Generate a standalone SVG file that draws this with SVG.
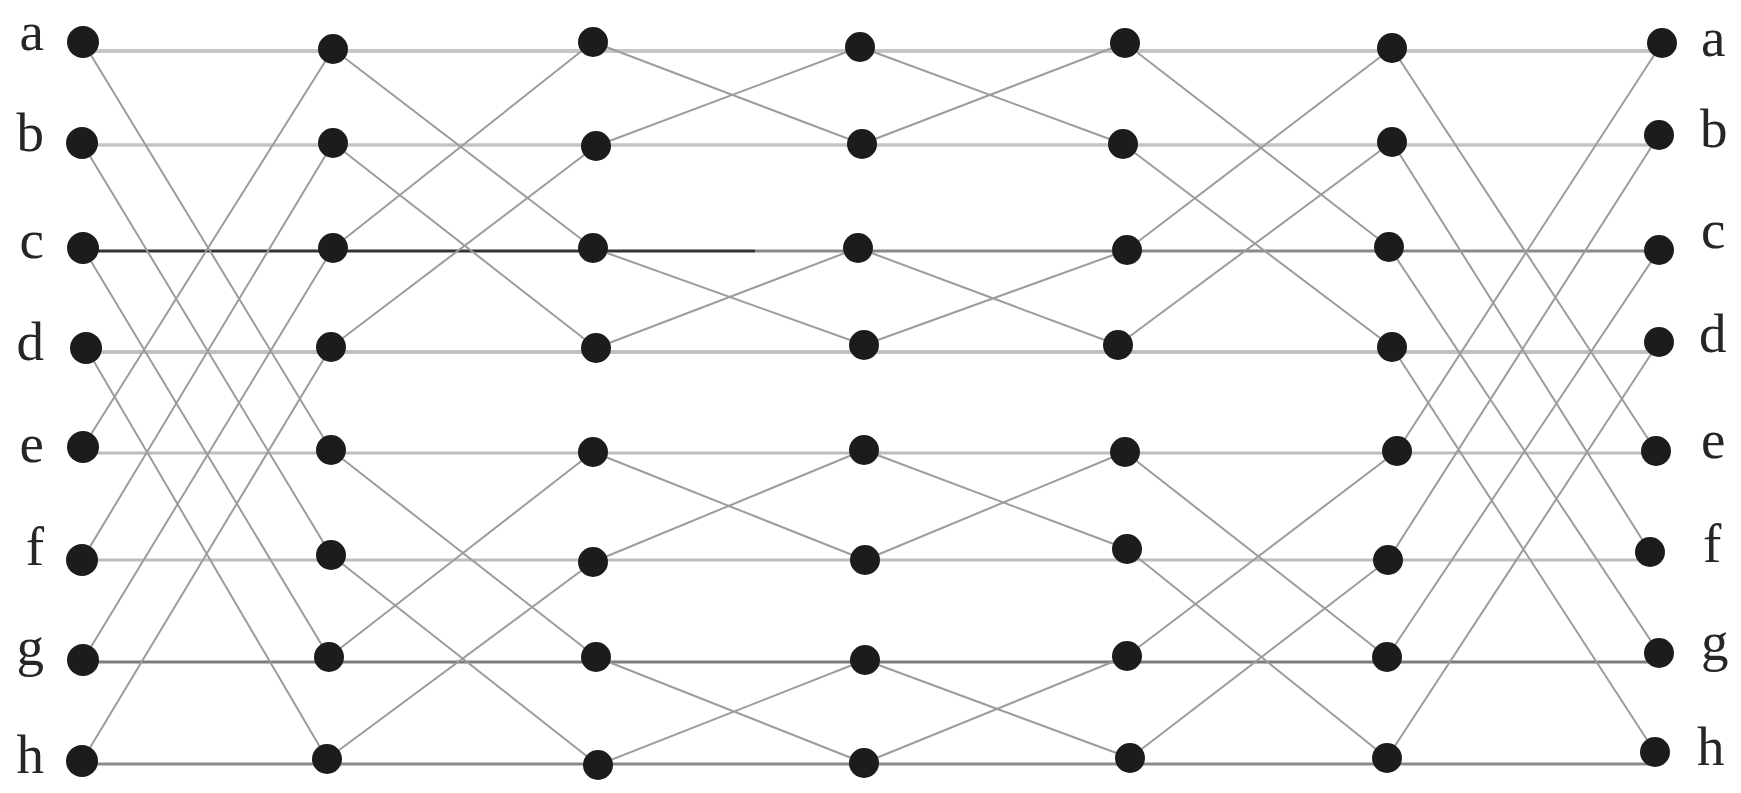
<svg xmlns="http://www.w3.org/2000/svg" width="1741" height="793" viewBox="0 0 1741 793">
<style>
.lbl{font-family:"Liberation Serif","Times New Roman",serif;font-size:55px;fill:#262626}
.d{stroke:#9c9c9c;stroke-width:2;fill:none}
.n{fill:#1c1c1c}
</style>
<rect width="1741" height="793" fill="#ffffff"/>
<g id="connectors">
<line x1="83" y1="51" x2="1662" y2="51" stroke="#c6c6c6" stroke-width="4"/>
<line x1="82" y1="145" x2="1659" y2="145" stroke="#c4c4c4" stroke-width="3.5"/>
<line x1="83" y1="251" x2="755" y2="251" stroke="#333333" stroke-width="3"/>
<line x1="755" y1="251" x2="1659" y2="251" stroke="#8a8a8a" stroke-width="3"/>
<line x1="86" y1="352" x2="1659" y2="352" stroke="#c0c0c0" stroke-width="4"/>
<line x1="83" y1="453" x2="1656" y2="453" stroke="#bdbdbd" stroke-width="3"/>
<line x1="82" y1="560" x2="1650" y2="560" stroke="#bdbdbd" stroke-width="3"/>
<line x1="83" y1="662" x2="1659" y2="662" stroke="#7c7c7c" stroke-width="3"/>
<line x1="82" y1="764" x2="1655" y2="764" stroke="#8a8a8a" stroke-width="3"/>
<!-- col0 -> col1 (stride 4) -->
<path class="d" d="M83 42L331 450M82 143L331 555M83 248L329 657M86 348L327 759M83 447L333 49M82 560L333 143M83 660L333 248M82 761L331 347"/>
<!-- col1 -> col2 (stride 2) -->
<path class="d" d="M333 49L593 248M333 143L596 348M333 248L593 42M331 347L596 146M331 450L596 657M331 555L598 765M329 657L593 452M327 759L593 562"/>
<!-- col2 -> col3 (stride 1) -->
<path class="d" d="M593 42L862 144M596 146L860 47M593 248L864 345M596 348L858 248M593 452L865 560M593 562L864 450M596 657L864 763M598 765L865 660"/>
<!-- col3 -> col4 (stride 1) -->
<path class="d" d="M860 47L1123 144M862 144L1125 43M858 248L1118 345M864 345L1127 250M864 450L1127 549M865 560L1125 452M865 660L1130 758M864 763L1127 656"/>
<!-- col4 -> col5 (stride 2) -->
<path class="d" d="M1125 43L1389 247M1123 144L1392 347M1127 250L1392 48M1118 345L1392 142M1125 452L1387 657M1127 549L1387 758M1127 656L1397 451M1130 758L1388 560"/>
<!-- col5 -> col6 (stride 4) -->
<path class="d" d="M1392 48L1656 451M1392 142L1650 552M1389 247L1659 653M1392 347L1655 752M1397 451L1662 43M1388 560L1659 135M1387 657L1659 250M1387 758L1659 342"/>
</g>
<g id="col0">
<circle id="n0a" class="n" cx="83" cy="42" r="16"/>
<circle id="n0b" class="n" cx="82" cy="143" r="16"/>
<circle id="n0c" class="n" cx="83" cy="248" r="16"/>
<circle id="n0d" class="n" cx="86" cy="348" r="16"/>
<circle id="n0e" class="n" cx="83" cy="447" r="16"/>
<circle id="n0f" class="n" cx="82" cy="560" r="16"/>
<circle id="n0g" class="n" cx="83" cy="660" r="16"/>
<circle id="n0h" class="n" cx="82" cy="761" r="16"/>
</g>
<g id="col1">
<circle id="n1a" class="n" cx="333" cy="49" r="15"/>
<circle id="n1b" class="n" cx="333" cy="143" r="15"/>
<circle id="n1c" class="n" cx="333" cy="248" r="15"/>
<circle id="n1d" class="n" cx="331" cy="347" r="15"/>
<circle id="n1e" class="n" cx="331" cy="450" r="15"/>
<circle id="n1f" class="n" cx="331" cy="555" r="15"/>
<circle id="n1g" class="n" cx="329" cy="657" r="15"/>
<circle id="n1h" class="n" cx="327" cy="759" r="15"/>
</g>
<g id="col2">
<circle id="n2a" class="n" cx="593" cy="42" r="15"/>
<circle id="n2b" class="n" cx="596" cy="146" r="15"/>
<circle id="n2c" class="n" cx="593" cy="248" r="15"/>
<circle id="n2d" class="n" cx="596" cy="348" r="15"/>
<circle id="n2e" class="n" cx="593" cy="452" r="15"/>
<circle id="n2f" class="n" cx="593" cy="562" r="15"/>
<circle id="n2g" class="n" cx="596" cy="657" r="15"/>
<circle id="n2h" class="n" cx="598" cy="765" r="15"/>
</g>
<g id="col3">
<circle id="n3a" class="n" cx="860" cy="47" r="15"/>
<circle id="n3b" class="n" cx="862" cy="144" r="15"/>
<circle id="n3c" class="n" cx="858" cy="248" r="15"/>
<circle id="n3d" class="n" cx="864" cy="345" r="15"/>
<circle id="n3e" class="n" cx="864" cy="450" r="15"/>
<circle id="n3f" class="n" cx="865" cy="560" r="15"/>
<circle id="n3g" class="n" cx="865" cy="660" r="15"/>
<circle id="n3h" class="n" cx="864" cy="763" r="15"/>
</g>
<g id="col4">
<circle id="n4a" class="n" cx="1125" cy="43" r="15"/>
<circle id="n4b" class="n" cx="1123" cy="144" r="15"/>
<circle id="n4c" class="n" cx="1127" cy="250" r="15"/>
<circle id="n4d" class="n" cx="1118" cy="345" r="15"/>
<circle id="n4e" class="n" cx="1125" cy="452" r="15"/>
<circle id="n4f" class="n" cx="1127" cy="549" r="15"/>
<circle id="n4g" class="n" cx="1127" cy="656" r="15"/>
<circle id="n4h" class="n" cx="1130" cy="758" r="15"/>
</g>
<g id="col5">
<circle id="n5a" class="n" cx="1392" cy="48" r="15"/>
<circle id="n5b" class="n" cx="1392" cy="142" r="15"/>
<circle id="n5c" class="n" cx="1389" cy="247" r="15"/>
<circle id="n5d" class="n" cx="1392" cy="347" r="15"/>
<circle id="n5e" class="n" cx="1397" cy="451" r="15"/>
<circle id="n5f" class="n" cx="1388" cy="560" r="15"/>
<circle id="n5g" class="n" cx="1387" cy="657" r="15"/>
<circle id="n5h" class="n" cx="1387" cy="758" r="15"/>
</g>
<g id="col6">
<circle id="n6a" class="n" cx="1662" cy="43" r="15"/>
<circle id="n6b" class="n" cx="1659" cy="135" r="15"/>
<circle id="n6c" class="n" cx="1659" cy="250" r="15"/>
<circle id="n6d" class="n" cx="1659" cy="342" r="15"/>
<circle id="n6e" class="n" cx="1656" cy="451" r="15"/>
<circle id="n6f" class="n" cx="1650" cy="552" r="15"/>
<circle id="n6g" class="n" cx="1659" cy="653" r="15"/>
<circle id="n6h" class="n" cx="1655" cy="752" r="15"/>
</g>
<g id="labels-left" class="lbl" text-anchor="end">
<text x="44" y="50">a</text>
<text x="44" y="151">b</text>
<text x="44" y="258">c</text>
<text x="44" y="360">d</text>
<text x="44" y="462">e</text>
<text x="44" y="565">f</text>
<text x="44" y="665">g</text>
<text x="44" y="773">h</text>
</g>
<g id="labels-right" class="lbl">
<text x="1701" y="56">a</text>
<text x="1700" y="147">b</text>
<text x="1701" y="248">c</text>
<text x="1699" y="352">d</text>
<text x="1701" y="458">e</text>
<text x="1703" y="562">f</text>
<text x="1701" y="660">g</text>
<text x="1697" y="765">h</text>
</g>
</svg>
